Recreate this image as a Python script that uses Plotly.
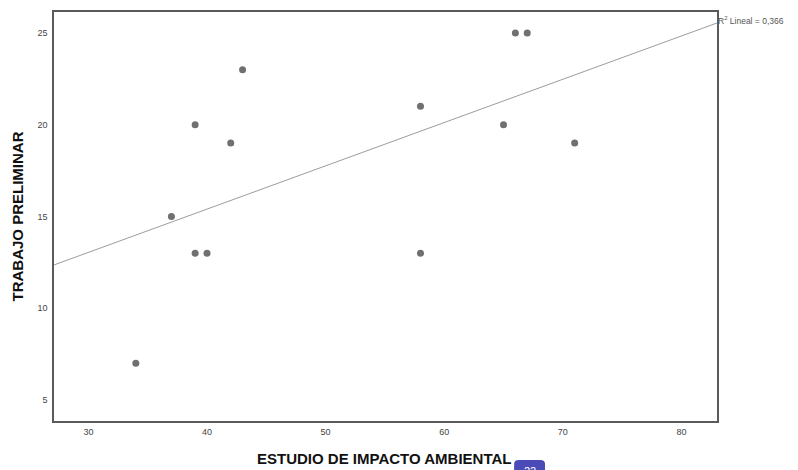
import numpy as np
import plotly.graph_objects as go

# Data
estudio_impacto = [34, 37, 39, 39, 40, 42, 43, 58, 58, 65, 66, 67, 71]
trabajo_preliminar = [7, 15, 20, 13, 13, 19, 23, 21, 13, 20, 25, 25, 19]
x_ticks = [30, 40, 50, 60, 70, 80]
y_ticks = [5, 10, 15, 20, 25]
x_range = [27.1, 83.0]
y_range = [3.86, 26.14]
r2_label = "R<sup>2</sup> Lineal = 0,366"
page_badge = "22"

xa = np.array(estudio_impacto, dtype=float)
ya = np.array(trabajo_preliminar, dtype=float)
slope, intercept = np.polyfit(xa, ya, 1)
fit_x = np.array(x_range)
fit_y = slope * fit_x + intercept

fig = go.Figure()
fig.add_trace(go.Scatter(
    x=fit_x, y=fit_y, mode="lines",
    line=dict(color="#9c9c9c", width=1),
    hoverinfo="skip", showlegend=False,
))
fig.add_trace(go.Scatter(
    x=estudio_impacto, y=trabajo_preliminar, mode="markers",
    marker=dict(color="#707070", size=7),
    showlegend=False,
))

axis_common = dict(
    showgrid=False, zeroline=False,
    showline=True, linecolor="#5a5a5a", linewidth=1.5, mirror=True,
    ticks="", tickfont=dict(family="Liberation Sans, Arial", size=9, color="#444444"),
)

# page body has an 8px margin; figure sized/offset to compensate
fig.update_layout(
    width=790, height=462,
    margin=dict(l=46, r=81, t=4, b=49, autoexpand=False),
    plot_bgcolor="white", paper_bgcolor="white",
    xaxis=dict(range=x_range, tickvals=x_ticks, ticklabelstandoff=1, **axis_common),
    yaxis=dict(range=y_range, tickvals=y_ticks, ticklabelstandoff=3, **axis_common),
    shapes=[
        dict(type="path", xref="paper", yref="paper",
             path="M 0.694,-0.16 L 0.694,-0.105 Q 0.694,-0.0954 0.701,-0.0954 "
                  "L 0.7336,-0.0954 Q 0.7406,-0.0954 0.7406,-0.105 L 0.7406,-0.16 Z",
             fillcolor="#4b4bb8", line=dict(width=0), layer="above"),
    ],
    annotations=[
        dict(text="<b>ESTUDIO DE IMPACTO AMBIENTAL</b>", xref="paper", yref="paper",
             x=0.498, y=-0.0905, xanchor="center", yanchor="middle", showarrow=False,
             font=dict(family="Liberation Sans, Arial", size=15, color="#111111")),
        dict(text="<b>TRABAJO PRELIMINAR</b>", xref="paper", yref="paper",
             x=-0.0543, y=0.5, xanchor="center", yanchor="middle", showarrow=False,
             textangle=-90,
             font=dict(family="Liberation Sans, Arial", size=15, color="#111111")),
        dict(text=r2_label, xref="paper", yref="paper",
             x=0.999, y=0.98, xanchor="left", yanchor="middle", showarrow=False,
             font=dict(family="Liberation Sans, Arial", size=8.5, color="#555555")),
        dict(text=page_badge, xref="paper", yref="paper",
             x=0.7173, y=-0.1027, xanchor="center", yanchor="top", showarrow=False,
             font=dict(family="Liberation Sans, Arial", size=11, color="white")),
    ],
)

fig.write_html("out.html")
